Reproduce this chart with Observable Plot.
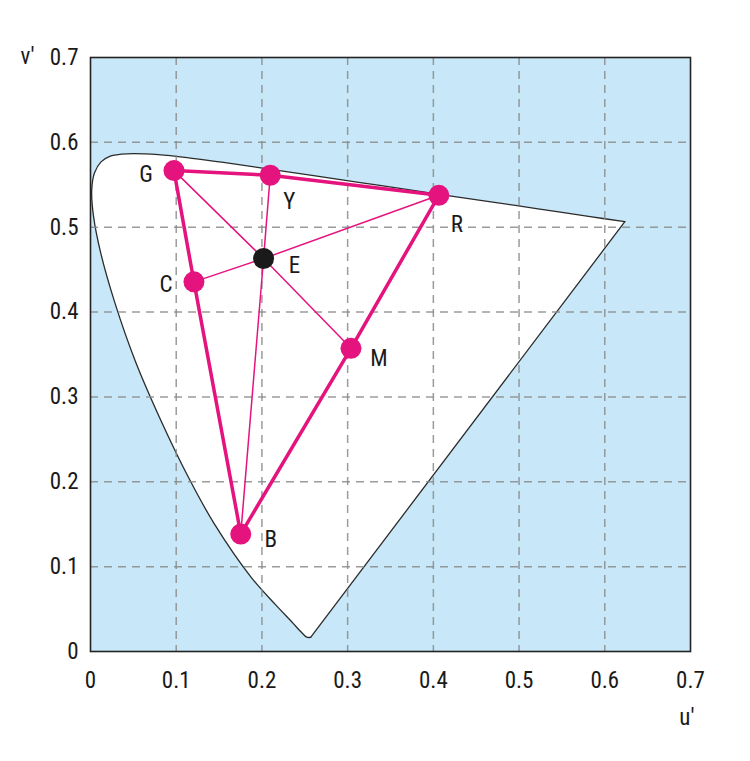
<!DOCTYPE html>
<html>
<head>
<meta charset="utf-8">
<script src="https://cdn.jsdelivr.net/npm/d3@7"></script>
<script src="https://cdn.jsdelivr.net/npm/@observablehq/plot@0.6"></script>
<style>
  html, body { margin: 0; padding: 0; background: #fff; }
  #chart svg { display: block; }
</style>
</head>
<body>
<div id="chart"></div>
<script>
// Spectral locus (CIE 1976 u'v'), 380 nm -> 700 nm
const locusU = [0.2568, 0.2522, 0.2461, 0.2347, 0.2161, 0.1877, 0.1441, 0.1147, 0.0828, 0.0521, 0.0282, 0.0119, 0.0035, 0.0014, 0.0046, 0.0123, 0.0231, 0.0360, 0.0501, 0.0792, 0.1127, 0.1531, 0.2026, 0.2623, 0.3315, 0.4035, 0.4692, 0.5203, 0.5830, 0.6234];
const locusV = [0.0166, 0.0169, 0.0226, 0.0350, 0.0549, 0.0871, 0.1510, 0.2044, 0.2708, 0.3427, 0.4117, 0.4698, 0.5131, 0.5432, 0.5638, 0.5770, 0.5837, 0.5861, 0.5868, 0.5856, 0.5821, 0.5766, 0.5694, 0.5604, 0.5501, 0.5393, 0.5296, 0.5219, 0.5125, 0.5065];

// Colour points
const pointNames = ["G", "Y", "R", "E", "C", "M", "B"];
const pointU = [0.0974, 0.2097, 0.4064, 0.2019, 0.1207, 0.3039, 0.1753];
const pointV = [0.5667, 0.5612, 0.5376, 0.4631, 0.4356, 0.3573, 0.1384];

// Connections
const thickPaths = [["G", "Y", "R"], ["R", "M", "B"], ["B", "C", "G"]];
const thinPaths = [["G", "E", "M"], ["R", "E", "C"], ["Y", "E", "B"]];

const ticks = [0, 0.1, 0.2, 0.3, 0.4, 0.5, 0.6, 0.7];

const locus = locusU.map((u, i) => ({u, v: locusV[i]}));
const purple = [locus[locus.length - 1], locus[0]];
const pts = pointNames.map((n, i) => ({name: n, u: pointU[i], v: pointV[i]}));
const byName = Object.fromEntries(pts.map(p => [p.name, p]));
const segs = (paths) => paths.flatMap((p, k) => p.map(n => ({...byName[n], path: k})));

const MAG = "#e5137e";
const labelOffset = {G: [-28, 4], Y: [19, 26], R: [18, 29], E: [31, 7], C: [-28, 3], M: [28, 10], B: [30, 6]};
const fmt = d => d === 0 ? "0" : d.toFixed(1);
const FONT = '"Liberation Sans Narrow", "Roboto Condensed", "DejaVu Sans Condensed", Roboto, sans-serif';

const labelMarks = pts.map(p => Plot.text([p], {
  x: "u", y: "v", text: "name",
  dx: labelOffset[p.name][0], dy: labelOffset[p.name][1],
  fontSize: 23, fill: "#1a1a1a"
}));

const chart = Plot.plot({
  width: 750,
  height: 761,
  marginLeft: 90,
  marginRight: 60,
  marginTop: 57,
  marginBottom: 110,
  style: {fontFamily: FONT, fontSize: "23px", color: "#1a1a1a", background: "#fff"},
  x: {domain: [0, 0.7], ticks, tickFormat: fmt, tickSize: 0, tickPadding: 20, label: null},
  y: {domain: [0, 0.7], ticks, tickFormat: fmt, tickSize: 0, tickPadding: 12, label: null},
  marks: [
    Plot.frame({fill: "#c8e8f9"}),
    Plot.line(locus, {x: "u", y: "v", fill: "#ffffff", stroke: "#2b2b2b", strokeWidth: 1.3, curve: "catmull-rom"}),
    Plot.line(purple, {x: "u", y: "v", stroke: "#2b2b2b", strokeWidth: 1.3}),
    Plot.gridX(ticks.slice(1, -1), {stroke: "#8a8a8a", strokeOpacity: 0.85, strokeWidth: 1.5, strokeDasharray: "8,6"}),
    Plot.gridY(ticks.slice(1, -1), {stroke: "#8a8a8a", strokeOpacity: 0.85, strokeWidth: 1.5, strokeDasharray: "8,6"}),
    Plot.frame({stroke: "#222", strokeWidth: 1.6}),
    Plot.line(segs(thinPaths), {x: "u", y: "v", z: "path", stroke: MAG, strokeWidth: 1.5}),
    Plot.line(segs(thickPaths), {x: "u", y: "v", z: "path", stroke: MAG, strokeWidth: 3.5, strokeLinejoin: "round"}),
    Plot.dot(pts, {x: "u", y: "v", r: 10.5, fill: d => d.name === "E" ? "#1a1a1a" : MAG, stroke: "none"}),
    ...labelMarks,
    Plot.text(["v'"], {frameAnchor: "top-left", dx: -70, dy: -10, fontSize: 23, fill: "#1a1a1a"}),
    Plot.text(["u'"], {frameAnchor: "bottom-right", dx: 4, dy: 73, fontSize: 23, fill: "#1a1a1a"})
  ]
});
document.getElementById("chart").appendChild(chart);
</script>
</body>
</html>
